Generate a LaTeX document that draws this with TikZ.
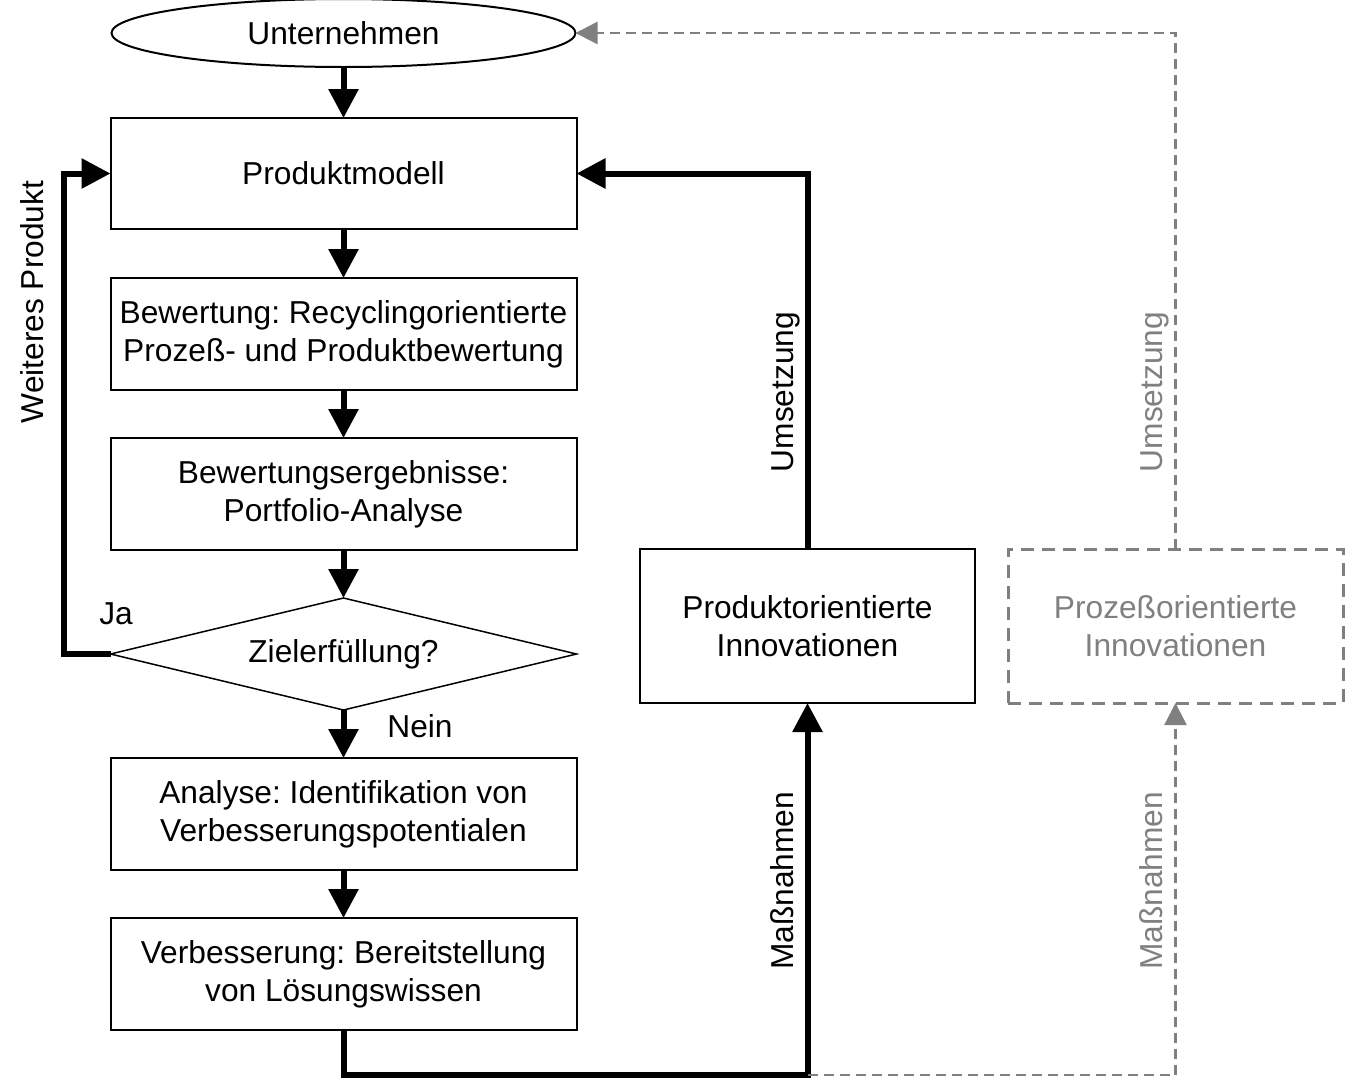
\documentclass[tikz,border=0pt]{standalone}
\usepackage{fontspec}
\setmainfont{Liberation Sans}
\usetikzlibrary{shapes.geometric,arrows.meta}
\definecolor{lgray}{HTML}{808080}
\frenchspacing
\begin{document}
\begin{tikzpicture}[x=1pt,y=-1pt,
  every node/.style={font=\fontsize{31.7}{38}\selectfont\frenchspacing, inner sep=0pt, outer sep=0pt},
  box/.style={draw, line width=2pt, minimum width=466pt, minimum height=112pt, align=center},
  innobox/.style={line width=2pt, minimum width=335pt, minimum height=154pt, align=center},
  conn/.style={line width=6pt, -{Triangle[length=29pt,width=29pt]}},
  gconn/.style={draw=lgray, line width=2.5pt, dash pattern=on 10pt off 6pt, -{Triangle[length=22pt,width=22pt]}},
  vlabel/.style={rotate=90, anchor=base}
]
\useasboundingbox (0,0) rectangle (1347,1079);

% nodes
\node[ellipse, draw, line width=2pt, minimum width=464pt, minimum height=68pt] (unt) at (343.5,33) {Unternehmen};
\node[box, minimum height=111pt] (mod) at (343.5,173.5) {Produktmodell};
\node[box] (bew) at (343.5,334) {Bewertung: Recyclingorientierte\\Prozeß- und Produktbewertung};
\node[box] (erg) at (343.5,494) {Bewertungsergebnisse:\\Portfolio-Analyse};
\node[diamond, draw, line width=1.5pt, shape aspect=4.16, minimum width=466pt, minimum height=112pt] (dia) at (343.5,654) {Zielerfüllung?};
\node[box] (ana) at (343.5,814) {Analyse: Identifikation von\\Verbesserungspotentialen};
\node[box] (ver) at (343.5,974) {Verbesserung: Bereitstellung\\von Lösungswissen};
\node[innobox, draw] (pin) at (807.5,626) {Produktorientierte\\Innovationen};
\node[innobox, draw=lgray, line width=3pt, dash pattern=on 13pt off 8pt, text=lgray] (zin) at (1175.5,626) {Prozeßorientierte\\Innovationen};

\coordinate (jn) at (807.5,1075);
\coordinate (lf) at (64,654);

% main flow
\draw[conn] (unt) -- (mod);
\draw[conn] (mod) -- (bew);
\draw[conn] (bew) -- (erg);
\draw[conn] (erg) -- (dia);
\draw[conn] (dia) -- (ana);
\draw[conn] (ana) -- (ver);

% loop back
\draw[conn] (dia.west) -- (lf) |- (mod.west);

% Massnahmen / Umsetzung black
\draw[conn] (ver.south) |- (jn) -- (pin.south);
\draw[conn] (pin.north) |- (mod.east);

% gray dashed
\draw[gconn] (jn) -| (zin.south);
\draw[gconn] (zin.north) |- (unt.east);

% labels
\node[anchor=base] (ja) at (116,624) {Ja};
\node[anchor=base] (nein) at (420,737) {Nein};
\node[vlabel] (wp) at (43,302) {Weiteres Produkt};
\node[vlabel] (ums1) at (793,392) {Umsetzung};
\node[vlabel] (mas1) at (793,881) {Maßnahmen};
\node[vlabel, text=lgray] (ums2) at (1162,392) {Umsetzung};
\node[vlabel, text=lgray] (mas2) at (1162,881) {Maßnahmen};
\end{tikzpicture}
\end{document}
